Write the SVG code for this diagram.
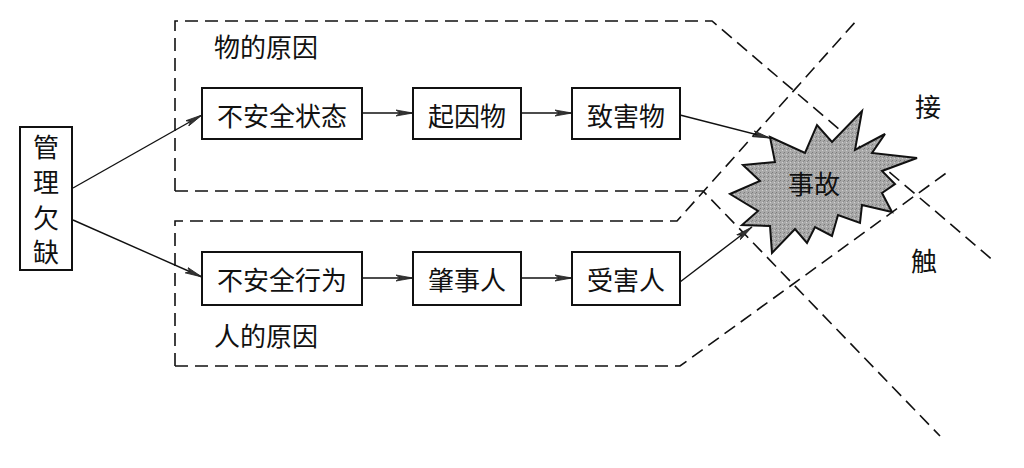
<svg xmlns="http://www.w3.org/2000/svg" width="1024" height="468" viewBox="0 0 1024 468">
<defs>
<marker id="ah" markerUnits="userSpaceOnUse" markerWidth="18" markerHeight="8" refX="17" refY="4" orient="auto">
<path d="M0,1 L17,4 L0,7 L4,4 Z" fill="#333" stroke="#222" stroke-width="0.8"/>
</marker>
<pattern id="stip" width="4" height="4" patternUnits="userSpaceOnUse">
<rect width="4" height="4" fill="#a9a9a9"/>
<rect x="0" y="0" width="1" height="1" fill="#7a7a7a"/>
<rect x="2" y="2" width="1" height="1" fill="#d0d0d0"/>
<rect x="3" y="1" width="1" height="1" fill="#8a8a8a"/>
</pattern>
</defs>
<style>
.box{fill:#fff;stroke:#111;stroke-width:2}
.dash{fill:none;stroke:#111;stroke-width:1.6;stroke-dasharray:13 7}
.conn{fill:none;stroke:#111;stroke-width:1.4}
.t{font-family:"Noto Sans CJK SC","Noto Sans CJK JP",sans-serif;font-size:26px;fill:#111;text-anchor:middle;dominant-baseline:central}
</style>
<rect width="1024" height="468" fill="#fff"/>
<g id="regions">
<path class="dash" d="M175,191 L175,21 L712,21 L995,262"/>
<path class="dash" d="M175,191 L703,191 L940,436"/>
<path class="dash" d="M175,366 L175,221 L677,221 L857,20"/>
<path class="dash" d="M175,366 L680,366 L949,171"/>
</g>
<g id="accident">
<polygon points="770,137 805,153 817,125 832,142 862,111 855,150 885,134 872,153 917,158 882,171 895,184 882,193 892,212 862,205 860,223 838,215 832,236 815,227 807,243 795,229 772,253 770,226 742,225 758,211 730,194 760,181 743,165 775,162" fill="url(#stip)" stroke="#111" stroke-width="2" stroke-linejoin="miter"/>
<text class="t" x="814" y="182">事故</text>
</g>
<g id="connectors">
<line class="conn" x1="73" y1="188" x2="202" y2="115" marker-end="url(#ah)"/>
<line class="conn" x1="73" y1="220" x2="202" y2="277" marker-end="url(#ah)"/>
<line class="conn" x1="362" y1="113" x2="413" y2="113" marker-end="url(#ah)"/>
<line class="conn" x1="521" y1="113" x2="572" y2="113" marker-end="url(#ah)"/>
<line class="conn" x1="680" y1="115" x2="770" y2="138" marker-end="url(#ah)"/>
<line class="conn" x1="362" y1="278" x2="413" y2="278" marker-end="url(#ah)"/>
<line class="conn" x1="521" y1="278" x2="572" y2="278" marker-end="url(#ah)"/>
<line class="conn" x1="680" y1="282" x2="752" y2="227" marker-end="url(#ah)"/>
</g>
<g id="mgmt">
<rect class="box" x="20" y="127" width="52" height="143"/>
<text class="t" x="46" y="145">管</text>
<text class="t" x="46" y="180">理</text>
<text class="t" x="46" y="216">欠</text>
<text class="t" x="46" y="250">缺</text>
</g>
<g id="unsafe-state">
<rect class="box" x="202" y="88" width="160" height="51"/>
<text class="t" x="282" y="114">不安全状态</text>
</g>
<g id="cause-obj">
<rect class="box" x="413" y="88" width="108" height="51"/>
<text class="t" x="467" y="114">起因物</text>
</g>
<g id="harm-obj">
<rect class="box" x="572" y="88" width="108" height="51"/>
<text class="t" x="626" y="114">致害物</text>
</g>
<g id="unsafe-act">
<rect class="box" x="202" y="252" width="160" height="53"/>
<text class="t" x="282" y="278">不安全行为</text>
</g>
<g id="perpetrator">
<rect class="box" x="413" y="252" width="108" height="53"/>
<text class="t" x="467" y="278">肇事人</text>
</g>
<g id="victim">
<rect class="box" x="572" y="252" width="108" height="53"/>
<text class="t" x="626" y="278">受害人</text>
</g>
<g id="labels">
<text class="t" x="266" y="45">物的原因</text>
<text class="t" x="266" y="334">人的原因</text>
<text class="t" x="928" y="105">接</text>
<text class="t" x="924" y="259">触</text>
</g>
</svg>
